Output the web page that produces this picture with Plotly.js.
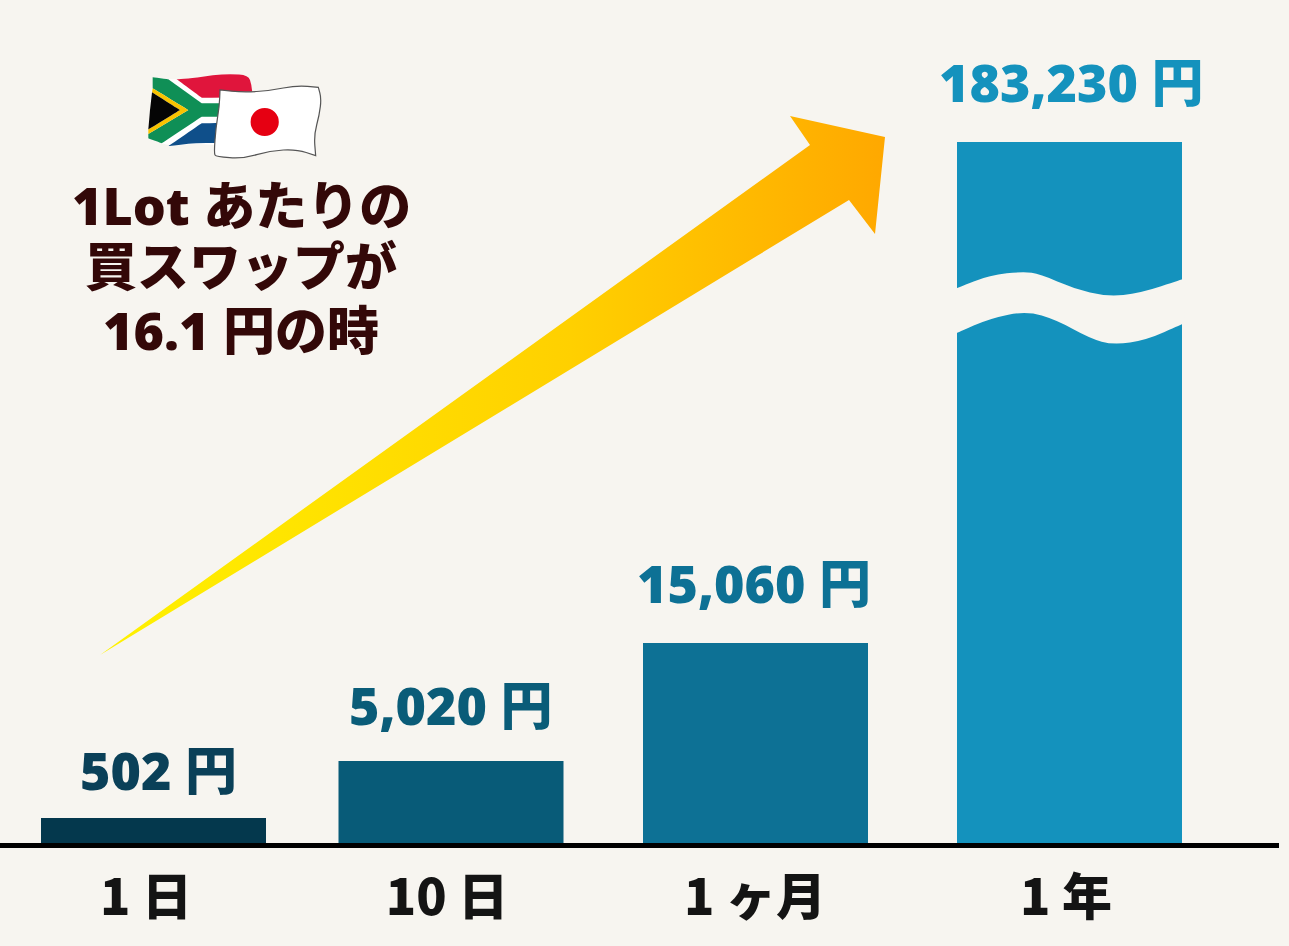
<!DOCTYPE html>
<html>
<head>
<meta charset="utf-8">
<script src="https://cdn.plot.ly/plotly-3.0.1.min.js"></script>
<style>html,body{margin:0;padding:0;background:#f7f5f0}#chart{width:1289px;height:946px}</style>
</head>
<body>
<div id="chart"></div>
<script>
const categories = ['1 日', '10 日', '1 ヶ月', '1 年'];
const swapLabels = ['502 円', '5,020 円', '15,060 円', '183,230 円'];
const barCenters = [153.5, 451, 755.5, 1069.5];
const tickCenters = [146, 447, 755, 1066];
const barHeights = [27, 84, 202, 703];
const barColors = ['#04384d', '#085b78', '#0d7195', '#1492bd'];
const labelColors = ['#0a4058', '#0a5c78', '#0d7195', '#1492bd'];
const labelCenters = [158, 450, 754, 1071];
const labelShifts = [49, 57, 61, 61];
const noteLines = ['1Lot あたりの', '買スワップが', '16.1 円の時'];
const noteY = [204, 265, 329];
const arrowX = [100, 810, 790, 885, 875, 849, 100];
const arrowPixY = [655, 145, 116, 137, 234, 200, 655];

const BG = '#f7f5f0';
const LATIN_CJK = '"Open Sans","Noto Sans CJK JP",sans-serif';
const toY = p => 845 - p;

// decorative outline helpers: points are page pixels
function smooth(pts) {
  const mid = (a, b) => [(a[0] + b[0]) / 2, (a[1] + b[1]) / 2];
  const n = pts.length;
  let start = mid(pts[n - 1], pts[0]);
  let d = `M${start[0]},${toY(start[1])}`;
  for (let i = 0; i < n; i++) {
    const m = mid(pts[i], pts[(i + 1) % n]);
    d += ` Q${pts[i][0]},${toY(pts[i][1])} ${m[0]},${toY(m[1])}`;
  }
  return d + ' Z';
}
const fromZoom = (ox, oy, list) => list.map(p => [ox + p[0] / 3, oy + p[1] / 3]);
const sharp = list => list.flatMap(p => [p, p]);

function deco(path, fill, line) {
  return {type: 'path', xref: 'x', yref: 'y', layer: 'above', path: path, fillcolor: fill,
          line: line ? {color: line, width: 1.2} : {width: 0}};
}

const gap = fromZoom(940, 250, [[46,116],[52,114],[150,75],[250,65],[300,72],[400,115],[500,140],[600,130],[727,88],[734,85],
  [734,219],[727,222],[620,270],[520,285],[450,265],[350,210],[260,183],[150,205],[52,248],[46,252]]);
const fl = p => fromZoom(130, 60, p);
const saBase = fl([[68,52],[115,58],[140,58],[200,55],[250,45],[300,42],[355,45],[365,80],[370,120],[300,260],[200,250],[115,258],[55,235],[60,150]]);
const saRed = fl([[140,58],[140,58],[185,55],[250,45],[300,42],[355,45],[365,75],[368,112],[368,112],[230,113],[215,113],[215,113]]);
const saBlue = fl([[115,258],[115,258],[215,190],[215,190],[300,188],[300,188],[300,250],[300,250],[200,248],[150,255]]);
const saGreen = fl([[68,52],[115,58],[215,130],[300,130],[300,170],[215,170],[95,250],[55,235],[55,222],[175,150],[68,85]]);
const saYellow = fl([[68,85],[175,150],[55,222],[55,208],[150,150],[66,97]]);
const saBlack = fl([[66,97],[150,150],[55,208],[60,150]]);
const jpFlag = fl([[270,90],[270,90],[340,97],[420,92],[500,76],[565,82],[565,82],[574,115],[568,165],[552,225],[557,287],[557,287],[500,268],[420,272],[340,296],[258,290],[252,280],[258,200],[268,140]]);

const shapes = [
  deco(smooth(gap), BG),
  deco(smooth(saBase), '#ffffff'),
  deco(smooth(saRed), '#e0153c'),
  deco(smooth(saBlue), '#0f4f8a'),
  deco(smooth(sharp(saGreen)), '#0f8f56'),
  deco(smooth(sharp(saYellow)), '#f8c300'),
  deco(smooth(sharp(saBlack)), '#050505'),
  deco(smooth(jpFlag), '#ffffff', '#555555'),
  {type: 'circle', xref: 'x', yref: 'y', layer: 'above', x0: 250.6, x1: 278.8, y0: toY(136), y1: toY(108), fillcolor: '#e60012', line: {width: 0}}
];

const annotations = swapLabels.map((t, i) => ({
  x: labelCenters[i], y: barHeights[i], yshift: labelShifts[i], text: t, showarrow: false,
  xanchor: 'center', yanchor: 'middle', font: {family: LATIN_CJK, size: 52, color: labelColors[i], weight: 800}
})).concat(noteLines.map((t, i) => ({
  x: 241, y: toY(noteY[i]), text: t, showarrow: false, xanchor: 'center', yanchor: 'middle',
  font: {family: LATIN_CJK, size: 52, color: '#330808', weight: 800}
})));

const traces = [
  {type: 'bar', x: barCenters, y: barHeights, width: 225, marker: {color: barColors, line: {width: 0}}, hoverinfo: 'skip'},
  {type: 'scatter', x: arrowX, y: arrowPixY.map(toY), mode: 'lines', line: {width: 0}, fill: 'toself',
   fillgradient: {type: 'horizontal', colorscale: [[0, '#fff200'], [0.6, '#ffd000'], [1, '#ffa800']]}, hoverinfo: 'skip'}
];

const layout = {
  width: 1289, height: 946, margin: {l: 0, r: 10, t: 0, b: 103, pad: 0},
  paper_bgcolor: BG, plot_bgcolor: BG, showlegend: false,
  font: {family: LATIN_CJK},
  xaxis: {range: [0, 1279], tickmode: 'array', tickvals: tickCenters, ticktext: categories,
    showgrid: false, zeroline: false, showline: true, linecolor: '#000000', linewidth: 5,
    ticks: '', ticklabelstandoff: 7, fixedrange: true,
    tickfont: {family: '"Noto Sans CJK JP",sans-serif', size: 50, color: '#141414', weight: 900}},
  yaxis: {range: [2, 845], visible: false, fixedrange: true},
  shapes: shapes, annotations: annotations
};
Plotly.newPlot('chart', traces, layout, {displayModeBar: false, staticPlot: true});
</script>
</body>
</html>
